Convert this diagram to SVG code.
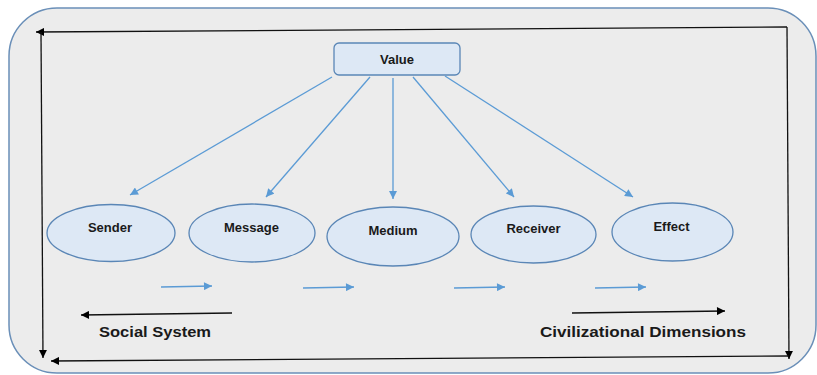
<svg xmlns="http://www.w3.org/2000/svg" width="817" height="375" viewBox="0 0 817 375">
<defs>
<marker id="ab" viewBox="0 0 10 10" refX="10" refY="5" markerWidth="9" markerHeight="8" markerUnits="userSpaceOnUse" orient="auto"><path d="M0,0 L10,5 L0,10 Z" fill="#5b9bd5"/></marker>
<marker id="ak" viewBox="0 0 10 10" refX="10" refY="5" markerWidth="9" markerHeight="8" markerUnits="userSpaceOnUse" orient="auto"><path d="M0,0 L10,5 L0,10 Z" fill="#000"/></marker>
<style>
.t{font-family:"Liberation Sans",Arial,sans-serif;font-weight:bold;fill:#1a1a1a;text-anchor:middle}
.n{font-size:13px}
.e{fill:#dde8f5;stroke:#5a86b6;stroke-width:1.3}
.b{stroke:#5b9bd5;stroke-width:1.3;fill:none;marker-end:url(#ab)}
.k{stroke:#111;stroke-width:1.3;fill:none;marker-end:url(#ak)}
</style>
</defs>
<rect x="9" y="8" width="807" height="365" rx="48" ry="48" fill="#ececec" stroke="#6a8fb8" stroke-width="1.5"/>
<g id="frame">
<line class="k" x1="787" y1="27" x2="36" y2="32"/>
<line class="k" x1="41" y1="32" x2="43" y2="358"/>
<line class="k" x1="787" y1="27" x2="789" y2="359"/>
<line class="k" x1="789" y1="356" x2="51" y2="361"/>
</g>
<g id="value"><rect x="334" y="43" width="126" height="32" rx="5" ry="5" class="e"/><text class="t n" x="397" y="63.5">Value</text></g>
<g id="sender"><ellipse cx="111" cy="233" rx="64" ry="28.5" class="e"/><text class="t n" x="110" y="232">Sender</text></g>
<g id="message"><ellipse cx="252" cy="233" rx="63" ry="29" class="e"/><text class="t n" x="251.5" y="232">Message</text></g>
<g id="medium"><ellipse cx="393" cy="236.5" rx="66" ry="29.5" class="e"/><text class="t n" x="393" y="235">Medium</text></g>
<g id="receiver"><ellipse cx="533.5" cy="234.5" rx="62.5" ry="28.5" class="e"/><text class="t n" x="533.5" y="233">Receiver</text></g>
<g id="effect"><ellipse cx="672.5" cy="232" rx="60.5" ry="29" class="e"/><text class="t n" x="671.5" y="231">Effect</text></g>
<g id="connectors">
<line class="b" x1="332" y1="77" x2="130" y2="195"/>
<line class="b" x1="370" y1="77" x2="266" y2="197"/>
<line class="b" x1="393" y1="78" x2="393" y2="199"/>
<line class="b" x1="413" y1="77" x2="514" y2="197"/>
<line class="b" x1="445" y1="76" x2="633" y2="197"/>
<line class="b" x1="161" y1="287" x2="212" y2="286"/>
<line class="b" x1="303" y1="288" x2="354" y2="287"/>
<line class="b" x1="454" y1="288" x2="505" y2="287"/>
<line class="b" x1="595" y1="288" x2="646" y2="287"/>
<line class="k" x1="232" y1="313" x2="81" y2="315"/>
<line class="k" x1="572" y1="313" x2="725" y2="311"/>
</g>
<g id="labels">
<text class="t" x="155" y="337" font-size="15" textLength="112" lengthAdjust="spacingAndGlyphs">Social System</text>
<text class="t" x="643" y="337" font-size="15" textLength="206" lengthAdjust="spacingAndGlyphs">Civilizational Dimensions</text>
</g>
</svg>
